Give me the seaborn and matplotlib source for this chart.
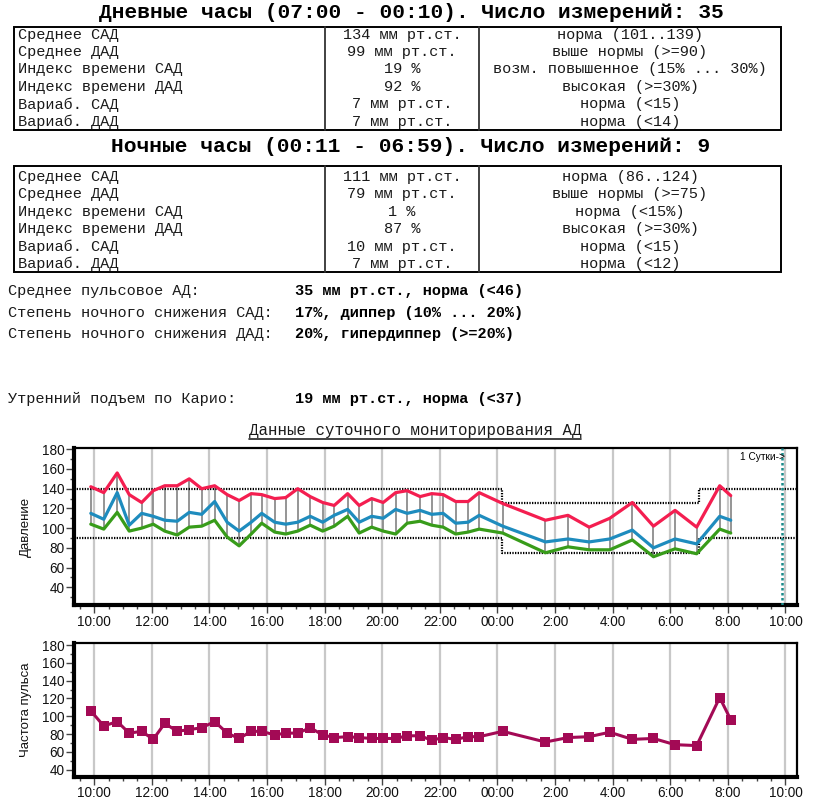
import numpy as np
import pandas as pd
import seaborn as sns
import matplotlib.pyplot as plt
from matplotlib.patches import Rectangle
from matplotlib.lines import Line2D
from matplotlib.ticker import MultipleLocator, FixedLocator

# measurement times (HH:MM) over the 24h record
times = ['09:53', '10:20', '10:48', '11:13', '11:39', '12:03', '12:27', '12:53', '13:18', '13:44',
         '14:11', '14:37', '15:02', '15:27', '15:49', '16:16', '16:39', '17:04', '17:30', '17:56',
         '18:20', '18:48', '19:12', '19:38', '20:02', '20:28', '20:52', '21:19', '21:43', '22:07',
         '22:33', '22:59', '23:22', '00:11', '01:40', '02:27', '03:11', '03:54', '04:41', '05:25',
         '06:10', '06:55', '07:43', '08:06']
sad = [142, 136, 156, 134, 126, 138, 143, 143, 150, 140, 143, 134, 128, 135, 134, 130, 131, 140, 132, 126,
       123, 135, 123, 130, 126, 136, 138, 132, 135, 134, 127, 127, 136, 125, 108, 113, 101, 110, 126, 102,
       118, 101, 143, 133]
mean_ap = [115, 109, 136, 103, 115, 112, 108, 107, 116, 114, 127, 106, 97, 106, 115, 106, 104, 106, 112, 106,
           113, 119, 106, 112, 110, 119, 115, 118, 114, 115, 105, 106, 113, 102, 86, 89, 86, 89, 98, 80,
           89, 84, 112, 108]
dad = [104, 99, 116, 97, 100, 104, 97, 93, 101, 102, 108, 91, 82, 94, 105, 96, 94, 97, 103, 97,
       102, 112, 95, 101, 97, 94, 105, 107, 103, 101, 94, 96, 99, 95, 75, 81, 78, 78, 88, 71,
       79, 74, 99, 95]
pulse = [106, 89, 94, 81, 83, 74, 92, 83, 85, 87, 94, 81, 75, 83, 83, 79, 81, 81, 87, 79,
         76, 77, 76, 75, 75, 75, 78, 78, 73, 76, 74, 77, 77, 83, 71, 76, 77, 82, 74, 75,
         68, 67, 121, 96]

# norm band: day / night limits and period boundaries
period_edges = ['00:10', '07:00']
day_norm = [140, 90]
night_norm = [125, 75]

x_ticks = [10, 12, 14, 16, 18, 20, 22, 24, 26, 28, 30, 32, 34]
x_labels = ['10:00', '12:00', '14:00', '16:00', '18:00', '20:00', '22:00', '00:00',
            '2:00', '4:00', '6:00', '8:00', '10:00']

row_names = ['Среднее САД', 'Среднее ДАД', 'Индекс времени САД', 'Индекс времени ДАД',
             'Вариаб. САД', 'Вариаб. ДАД']
day_values = ['134 мм рт.ст.', '99 мм рт.ст.', '19 %', '92 %', '7 мм рт.ст.', '7 мм рт.ст.']
day_notes = ['норма (101..139)', 'выше нормы (>=90)', 'возм. повышенное (15% ... 30%)',
             'высокая (>=30%)', 'норма (<15)', 'норма (<14)']
night_values = ['111 мм рт.ст.', '79 мм рт.ст.', '1 %', '87 %', '10 мм рт.ст.', '7 мм рт.ст.']
night_notes = ['норма (86..124)', 'выше нормы (>=75)', 'норма (<15%)', 'высокая (>=30%)',
               'норма (<15)', 'норма (<12)']

summary_names = ['Среднее пульсовое АД:', 'Степень ночного снижения САД:',
                 'Степень ночного снижения ДАД:', 'Утренний подъем по Карио:']
summary_values = ['35 мм рт.ст., норма (<46)', '17%, диппер (10% ... 20%)',
                  '20%, гипердиппер (>=20%)', '19 мм рт.ст., норма (<37)']


def to_hours(s):
    h, m = map(int, s.split(':'))
    v = h + m / 60
    return v + 24 if v < 9 else v


t = [to_hours(s) for s in times]
df = pd.DataFrame({'t': t, 'sad': sad, 'mean': mean_ap, 'dad': dad, 'pulse': pulse})

sns.set_style('ticks')
plt.rcParams['font.family'] = ['Liberation Sans', 'DejaVu Sans']

W, H = 814, 800
fig = plt.figure(figsize=(W / 100, H / 100), dpi=100)
MONO = ['Liberation Mono', 'DejaVu Sans Mono']
TXT = '#1a1a1a'


def fx(x):
    return x / W


def fy(y):
    return 1 - y / H


def box(x0, y0, x1, y1, cols):
    fig.add_artist(Rectangle((fx(x0), fy(y1)), fx(x1) - fx(x0), fy(y0) - fy(y1),
                             transform=fig.transFigure, fill=False, lw=1.4, ec='black'))
    for c in cols:
        fig.add_artist(Line2D([fx(c), fx(c)], [fy(y0), fy(y1)], transform=fig.transFigure,
                              lw=1.3, color='#333333'))


def table(y_first, values, notes):
    for i, (n, v, c) in enumerate(zip(row_names, values, notes)):
        y = y_first + i * 17.45
        fig.text(fx(18), fy(y), n, family=MONO, fontsize=11, va='center', color=TXT)
        fig.text(fx(402), fy(y), v, family=MONO, fontsize=11, va='center', ha='center', color=TXT)
        fig.text(fx(630), fy(y), c, family=MONO, fontsize=11, va='center', ha='center', color=TXT)


fig.text(fx(411), fy(13), 'Дневные часы (07:00 - 00:10). Число измерений: 35', family=MONO,
         fontsize=15.3, weight='bold', ha='center', va='center', color='black')
box(14, 27, 781, 130, [325, 479])
table(34.5, day_values, day_notes)

fig.text(fx(411), fy(146), 'Ночные часы (00:11 - 06:59). Число измерений: 9', family=MONO,
         fontsize=15.3, weight='bold', ha='center', va='center', color='black')
box(14, 166, 781, 272, [325, 479])
table(177, night_values, night_notes)

for y, n, v in zip([291, 313, 334, 399], summary_names, summary_values):
    fig.text(fx(8), fy(y), n, family=MONO, fontsize=11, va='center', color=TXT)
    fig.text(fx(295), fy(y), v, family=MONO, fontsize=11, va='center', weight='bold', color='black')

ttl = fig.text(fx(415), fy(431), 'Данные суточного мониторирования АД', family=MONO, fontsize=11.3,
               ha='center', va='center', color=TXT)

# --- blood pressure chart
ax1 = fig.add_axes([fx(74), fy(605), fx(797) - fx(74), fy(448) - fy(605)])
ax2 = fig.add_axes([fx(74), fy(776.7), fx(797) - fx(74), fy(643.3) - fy(776.7)])

xmin, xmax = 9.3, 34.4
e0, e1 = [to_hours(s) for s in period_edges]
band_x = [xmin, e0, e0, e1, e1, xmax]
for k in range(2):
    band_y = [day_norm[k], day_norm[k], night_norm[k], night_norm[k], day_norm[k], day_norm[k]]
    ax1.plot(band_x, band_y, color='black', lw=1.6, ls=(0, (0.6, 0.6)), zorder=2.5)

ax1.vlines(df['t'], df['dad'], df['sad'], color='#8c8c8c', lw=1.3, zorder=2)
sns.lineplot(data=df, x='t', y='sad', ax=ax1, color='#f41e50', lw=2.3, estimator=None, zorder=3)
sns.lineplot(data=df, x='t', y='mean', ax=ax1, color='#1e8cbe', lw=2.3, estimator=None, zorder=3)
sns.lineplot(data=df, x='t', y='dad', ax=ax1, color='#389c1a', lw=2.3, estimator=None, zorder=3)

day_mark = t[0] + 24
ax1.axvline(day_mark, color='#1a8a8a', lw=1.8, ls=(0, (1, 1)), zorder=2.6)
ax1.text(day_mark + 0.1, 172.5, '1 Сутки->', ha='right', va='center', fontsize=7.3, color='black')

# --- pulse chart
sns.lineplot(data=df, x='t', y='pulse', ax=ax2, color='#a30a55', lw=2.2, marker='s',
             markersize=6.5, markeredgewidth=0, estimator=None, zorder=3)

for ax, ylim, lab in [(ax1, (22, 181.3), 'Давление'), (ax2, (32, 182), 'Частота пульса')]:
    ax.set_xlim(xmin, xmax)
    ax.set_ylim(*ylim)
    ax.xaxis.set_major_locator(FixedLocator(x_ticks))
    ax.set_xticklabels(x_labels)
    ax.xaxis.set_minor_locator(MultipleLocator(0.5))
    ax.yaxis.set_major_locator(FixedLocator([40, 60, 80, 100, 120, 140, 160, 180]))
    ax.yaxis.set_minor_locator(MultipleLocator(10))
    ax.grid(axis='x', which='major', color='#c8c8c8', lw=1.6)
    ax.set_axisbelow(True)
    ax.tick_params(which='major', direction='out', length=6, width=1, color='#444444',
                   labelsize=9.8, pad=1, labelcolor='#111111')
    ax.tick_params(which='minor', direction='out', length=3, width=1, color='#444444')
    ax.set_xlabel('')
    ax.set_ylabel(lab, fontsize=9.5, color='#111111')
    ax.yaxis.set_label_coords(-0.058, 0.5)
    for s in ['left', 'bottom']:
        ax.spines[s].set_linewidth(3)
        ax.spines[s].set_color('black')
    for s in ['top', 'right']:
        ax.spines[s].set_visible(True)
        ax.spines[s].set_linewidth(1.6)
        ax.spines[s].set_color('black')

# underline for the chart caption
fig.canvas.draw()
bb = ttl.get_window_extent().transformed(fig.transFigure.inverted())
fig.add_artist(Line2D([bb.x0, bb.x1], [fy(439.5), fy(439.5)], transform=fig.transFigure,
                      lw=1.2, color='#222222'))

fig.savefig('out.png', dpi=100)
